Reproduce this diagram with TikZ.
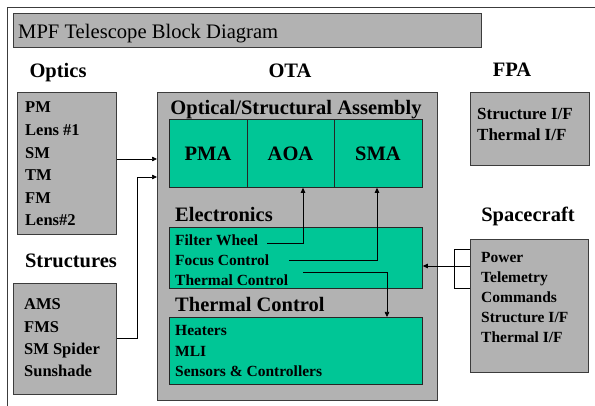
\documentclass[tikz,border=0pt]{standalone}
\usepackage{fontspec}
\setmainfont{Liberation Serif}
\usetikzlibrary{arrows.meta,calc}
\definecolor{panelgray}{RGB}{178,178,178}
\definecolor{unitgreen}{RGB}{0,198,150}
\definecolor{edgegray}{RGB}{60,60,60}

\begin{document}
\begin{tikzpicture}[x=1pt,y=-1pt,
  panel/.style={draw=edgegray, line width=0.9pt, fill=panelgray, inner sep=0pt, anchor=north west},
  unit/.style={draw=black!85, line width=0.8pt, fill=unitgreen, inner sep=0pt, anchor=north west},
  head/.style={font=\fontsize{20.5}{24}\selectfont\bfseries, inner sep=0pt, anchor=base},
  subhead/.style={head, anchor=base west},
  item/.style={font=\fontsize{15.5}{18}\selectfont\bfseries, inner sep=0pt, anchor=base west},
  bigitem/.style={font=\fontsize{16.5}{20}\selectfont\bfseries, inner sep=0pt, anchor=base west},
  link/.style={draw=black, line width=0.7pt},
  tip/.style={-{Triangle[length=5pt,width=4.5pt]}}
]
\useasboundingbox (0,0) rectangle (595,406);

% outer frame
\draw[edgegray, line width=1pt] (7.3,406) -- (7.3,7.3) -- (595,7.3);

% title bar
\node[panel, minimum width=468, minimum height=34] (title) at (12.7,13) {};
\node[font=\fontsize{20.6}{24}\selectfont, inner sep=0pt, anchor=base west] (titletext) at (18,38.5) {MPF Telescope Block Diagram};

% group headings
\node[head] (hoptics) at (58,78) {Optics};
\node[head] (hota) at (290,78) {OTA};
\node[head] (hfpa) at (512,77) {FPA};
\node[head] (hstruct) at (71,268) {Structures};
\node[head] (hsc) at (528,222) {Spacecraft};

% optics
\node[panel, minimum width=99, minimum height=142] (optics) at (17,92) {};
\foreach \t [count=\i] in {PM, Lens \#1, SM, TM, FM, Lens\#2}
  \node[bigitem] (opt\i) at (25,{113+22.6*(\i-1)}) {\t};

% structures
\node[panel, minimum width=103, minimum height=111] (structures) at (13,283) {};
\foreach \t [count=\i] in {AMS, FMS, SM Spider, Sunshade}
  \node[bigitem] (str\i) at (24,{310+22.3*(\i-1)}) {\t};

% optical telescope assembly
\node[panel, minimum width=280, minimum height=308] (ota) at (157,92) {};
\node[head] (hosa) at (296,115) {Optical/Structural Assembly};
\node[unit, minimum width=78, minimum height=68] (pma) at (169,119) {};
\node[unit, minimum width=87, minimum height=68] (aoa) at (247,119) {};
\node[unit, minimum width=88, minimum height=68] (sma) at (334,119) {};
\node[head] (tpma) at (208,161) {PMA};
\node[head] (taoa) at (290.5,161) {AOA};
\node[head] (tsma) at (378,161) {SMA};

\node[subhead] (helec) at (175,222) {Electronics};
\node[unit, minimum width=253, minimum height=61] (elec) at (169,227) {};
\node[item] (fw) at (175,246) {Filter Wheel};
\node[item] (fc) at (175,266) {Focus Control};
\node[item] (tc) at (175,286) {Thermal Control};

\node[subhead] (htherm) at (175,312) {Thermal Control};
\node[unit, minimum width=253, minimum height=67] (therm) at (169,317) {};
\foreach \t [count=\i] in {Heaters, MLI, Sensors \& Controllers}
  \node[item] (th\i) at (175,{336+20.5*(\i-1)}) {\t};

% focal plane assembly
\node[panel, minimum width=119, minimum height=73] (fpa) at (470,92) {};
\node[font=\fontsize{17}{20}\selectfont\bfseries, inner sep=0pt, anchor=base west] (fpa1) at (477,119.5) {Structure I/F};
\node[font=\fontsize{17}{20}\selectfont\bfseries, inner sep=0pt, anchor=base west] (fpa2) at (477,140.5) {Thermal I/F};

% spacecraft
\node[panel, minimum width=118, minimum height=133] (sc) at (470,239) {};
\foreach \t [count=\i] in {Power, Telemetry, Commands, Structure I/F, Thermal I/F}
  \node[item] (sc\i) at (481,{263+20*(\i-1)}) {\t};

% connectors
\draw[link,tip] (optics.east |- 0,159) -- (ota.west |- 0,159);
\coordinate (sbend) at (137,177);
\draw[link,tip] (structures.east |- 0,338) -| (sbend) -- (ota.west |- sbend);

\draw[link,tip] ($(fw.base east)+(9,-3)$) -| (aoa.south -| 303,0);
\draw[link,tip] ($(fc.base east)+(20,-5.5)$) -| (sma.south -| 377,0);
\draw[link,tip] ($(tc.base west)+(128,-14)$) -| (therm.north -| 387,0);

\coordinate (scbk) at (454,249);
\draw[link] (sc.west |- scbk) -- (scbk) -- (454,288) -- (sc.west |- 0,288);
\draw[link,tip] (sc.west |- 0,266) -- (elec.east |- 0,266);
\end{tikzpicture}
\end{document}
